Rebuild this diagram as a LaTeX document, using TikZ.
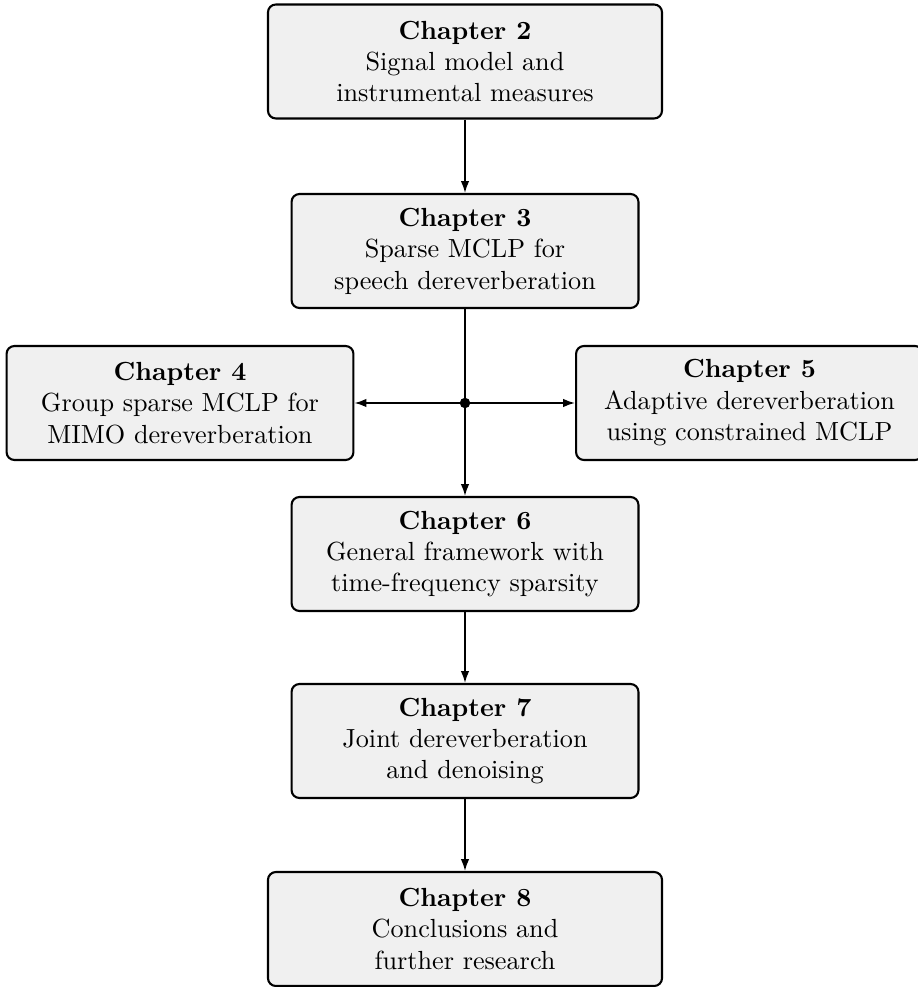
\documentclass[tikz,border=0pt]{standalone}
\usetikzlibrary{arrows.meta}
\definecolor{boxfill}{gray}{0.94}
\begin{document}
\begin{tikzpicture}[x=0.38168pt,y=-0.38168pt,
  chap/.style={draw,line width=0.8pt,fill=boxfill,rounded corners=3pt,align=center,
    minimum width=132.4pt,minimum height=43.5pt,inner sep=2pt,font=\normalsize},
  wide/.style={chap,minimum width=150.4pt},
  conn/.style={line width=0.6pt,-{Latex[length=4.5pt,width=3.2pt]}}]
\useasboundingbox (0,0) rectangle (917,987);
\node[wide] (c2) at (465,61.5) {\textbf{Chapter 2}\\Signal model and\\instrumental measures};
\node[chap] (c3) at (465,251) {\textbf{Chapter 3}\\Sparse MCLP for\\speech dereverberation};
\node[chap] (c4) at (180,403) {\textbf{Chapter 4}\\Group sparse MCLP for\\MIMO dereverberation};
\node[chap] (c5) at (749.5,403) {\textbf{Chapter 5}\\Adaptive dereverberation\\using constrained MCLP};
\node[chap] (c6) at (465,554) {\textbf{Chapter 6}\\General framework with\\time-frequency sparsity};
\node[chap] (c7) at (465,741) {\textbf{Chapter 7}\\Joint dereverberation\\and denoising};
\node[wide] (c8) at (465,929) {\textbf{Chapter 8}\\Conclusions and\\further research};
\coordinate (j) at (465,403);
\draw[conn] (c2) -- (c3);
\draw[conn] (c3) -- (c6);
\draw[conn] (j) -- (c4);
\draw[conn] (j) -- (c5);
\draw[conn] (c6) -- (c7);
\draw[conn] (c7) -- (c8);
\fill (j) circle (2pt);
\end{tikzpicture}
\end{document}
